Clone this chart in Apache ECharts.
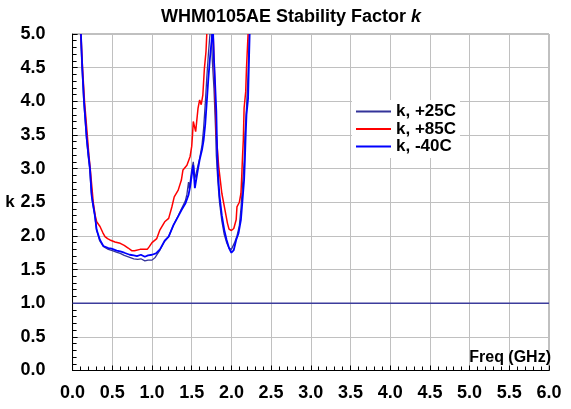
<!DOCTYPE html>
<html>
<head>
<meta charset="utf-8">
<script src="https://cdn.jsdelivr.net/npm/echarts@6/dist/echarts.min.js"></script>
<style>html,body{margin:0;padding:0;background:#fff}#c{width:571px;height:409px}</style>
</head>
<body>
<div id="c"></div>
<script>
// Axis ticks
const xTicks = [0, 0.5, 1, 1.5, 2, 2.5, 3, 3.5, 4, 4.5, 5, 5.5, 6];
const yTicks = [0, 0.5, 1, 1.5, 2, 2.5, 3, 3.5, 4, 4.5, 5];

// k, +25C
const freq25 = [0.10,0.118,0.14,0.175,0.195,0.215,0.235,0.25,0.28,0.30,0.34,0.39,0.45,0.50,0.55,0.60,0.65,0.72,0.77,0.82,0.86,0.91,0.95,1.00,1.04,1.10,1.16,1.21,1.27,1.33,1.37,1.42,1.44,1.46,1.47,1.50,1.52,1.54,1.57,1.60,1.63,1.65,1.67,1.69,1.71,1.73,1.74,1.75,1.76,1.78,1.80,1.81,1.83,1.85,1.88,1.91,1.94,1.97,2.00,2.02,2.04,2.07,2.10,2.12,2.14,2.16,2.17,2.19,2.21,2.225];
const k25 = [5.0,4.5,4.0,3.45,3.2,3.0,2.65,2.5,2.3,2.1,1.93,1.84,1.80,1.78,1.76,1.74,1.71,1.68,1.66,1.65,1.66,1.63,1.64,1.64,1.68,1.79,1.92,1.99,2.16,2.30,2.40,2.52,2.62,2.80,2.70,2.98,3.10,2.85,3.0,3.15,3.35,3.6,3.95,4.35,4.7,5.0,null,5.0,4.6,4.2,3.6,3.2,2.8,2.5,2.22,2.02,1.9,1.82,1.80,1.82,1.9,2.0,2.15,2.4,2.75,3.1,3.5,3.9,4.4,5.0];

// k, +85C
const freq85 = [0.105,0.125,0.15,0.185,0.205,0.222,0.245,0.26,0.285,0.303,0.345,0.38,0.408,0.44,0.47,0.534,0.60,0.65,0.70,0.744,0.78,0.85,0.90,0.94,0.966,1.00,1.06,1.10,1.16,1.21,1.25,1.28,1.33,1.37,1.39,1.44,1.48,1.50,1.51,1.52,1.55,1.58,1.60,1.62,1.64,1.65,1.66,1.68,1.69,1.73,1.77,1.79,1.81,1.84,1.88,1.92,1.95,1.97,2.00,2.03,2.06,2.07,2.10,2.12,2.13,2.14,2.15,2.16,2.18,2.19,2.21];
const k85 = [5.0,4.5,4.0,3.5,3.2,3.0,2.7,2.5,2.3,2.21,2.14,2.05,1.99,1.96,1.94,1.91,1.89,1.86,1.82,1.78,1.78,1.80,1.80,1.80,1.84,1.90,1.96,2.09,2.21,2.26,2.43,2.58,2.68,2.83,2.98,3.05,3.18,3.33,3.50,3.70,3.55,3.90,4.02,3.95,4.09,4.29,4.49,4.74,5.0,null,5.0,4.3,3.5,3.03,2.63,2.38,2.19,2.10,2.08,2.11,2.24,2.43,2.50,2.63,2.88,3.18,3.42,3.90,4.14,4.49,5.0];

// k, -40C
const freqM40 = [0.105,0.122,0.144,0.178,0.20,0.219,0.24,0.253,0.282,0.303,0.345,0.387,0.45,0.49,0.555,0.60,0.65,0.72,0.77,0.81,0.86,0.91,0.95,1.00,1.05,1.10,1.16,1.21,1.27,1.33,1.37,1.42,1.46,1.48,1.51,1.52,1.54,1.57,1.60,1.63,1.65,1.67,1.69,1.71,1.73,1.75,1.76,1.765,1.77,1.78,1.79,1.81,1.82,1.83,1.85,1.88,1.91,1.94,1.97,2.00,2.02,2.03,2.06,2.09,2.12,2.14,2.16,2.17,2.18,2.19,2.21,2.22,2.23];
const kM40 = [5.0,4.5,4.0,3.45,3.2,3.0,2.6,2.5,2.29,2.09,1.94,1.85,1.82,1.81,1.78,1.77,1.75,1.72,1.71,1.70,1.72,1.69,1.71,1.72,1.74,1.80,1.93,1.99,2.16,2.29,2.38,2.48,2.61,2.73,2.98,3.05,2.71,2.93,3.13,3.28,3.42,3.65,3.99,4.34,4.64,4.89,5.0,null,5.0,4.64,4.39,3.85,3.3,2.95,2.6,2.3,2.09,1.94,1.82,1.75,1.76,1.79,1.94,2.04,2.24,2.53,2.83,3.13,3.5,3.8,4.04,4.54,5.0];

// k = 1 reference line
const refFreq = [0, 6];
const refK = [1, 1];

const FONT = '"Liberation Sans", Arial, sans-serif';
const pairs = (xs, ys) => xs.map((x, i) => [x, ys[i] == null ? '-' : ys[i]]);

const chart = echarts.init(document.getElementById('c'), null, {renderer: 'canvas'});
const axisCommon = {
  type: 'value',
  interval: 0.5,
  axisLine: {show: true, lineStyle: {color: '#000', width: 1}},
  axisTick: {show: true, inside: true, length: 5, lineStyle: {color: '#000', width: 1}},
  minorTick: {show: true, splitNumber: 5, length: 4, lineStyle: {color: '#000', width: 1}},
  splitLine: {show: true, lineStyle: {color: '#c0c0c0', width: 1}},
  axisLabel: {fontFamily: FONT, fontWeight: 'bold', fontSize: 18, color: '#000', formatter: v => v.toFixed(1)}
};
chart.setOption({
  animation: false,
  backgroundColor: '#fff',
  title: {
    text: '{a|WHM0105AE Stability Factor }{b|k}',
    left: 156, top: 3,
    textStyle: {
      rich: {
        a: {fontFamily: FONT, fontWeight: 'bold', fontSize: 18, color: '#000'},
        b: {fontFamily: FONT, fontWeight: 'bold', fontStyle: 'italic', fontSize: 18, color: '#000'}
      }
    }
  },
  grid: {left: 72.6, right: 22, top: 34, bottom: 38.5, show: true, borderColor: '#808080', borderWidth: 1, backgroundColor: 'transparent'},
  legend: {
    orient: 'vertical', left: 352, top: 100,
    icon: 'rect', itemWidth: 35, itemHeight: 2, itemGap: 0.5,
    backgroundColor: '#fff', padding: [3, 4, 3, 4],
    textStyle: {fontFamily: FONT, fontWeight: 'bold', fontSize: 17, color: '#000', lineHeight: 17},
    data: ['k, +25C', 'k, +85C', 'k, -40C']
  },
  xAxis: Object.assign({}, axisCommon, {
    min: xTicks[0], max: xTicks[xTicks.length - 1],
    axisLabel: Object.assign({}, axisCommon.axisLabel, {margin: 14}),
    name: 'Freq (GHz)', nameLocation: 'end', nameGap: 2,
    nameTextStyle: {fontFamily: FONT, fontWeight: 'bold', fontSize: 16, color: '#000', align: 'right', verticalAlign: 'bottom', padding: [0, 0, 5, 0]}
  }),
  yAxis: Object.assign({}, axisCommon, {
    min: yTicks[0], max: yTicks[yTicks.length - 1],
    axisLabel: Object.assign({}, axisCommon.axisLabel, {margin: 27}),
    name: 'k', nameLocation: 'middle', nameGap: 52, nameRotate: 0,
    nameTextStyle: {fontFamily: FONT, fontWeight: 'bold', fontSize: 17, color: '#000'}
  }),
  series: [
    {name: 'ref', type: 'line', data: pairs(refFreq, refK), showSymbol: false, lineStyle: {color: '#3c3c9c', width: 1.5}, itemStyle: {color: '#3c3c9c'}, silent: true},
    {name: 'k, +25C', type: 'line', data: pairs(freq25, k25), showSymbol: false, connectNulls: false, lineStyle: {color: '#333399', width: 1.3}, itemStyle: {color: '#333399'}},
    {name: 'k, +85C', type: 'line', data: pairs(freq85, k85), showSymbol: false, connectNulls: false, lineStyle: {color: '#ff0000', width: 1.5}, itemStyle: {color: '#ff0000'}},
    {name: 'k, -40C', type: 'line', data: pairs(freqM40, kM40), showSymbol: false, connectNulls: false, lineStyle: {color: '#0000ff', width: 1.8}, itemStyle: {color: '#0000ff'}}
  ]
});
</script>
</body>
</html>
